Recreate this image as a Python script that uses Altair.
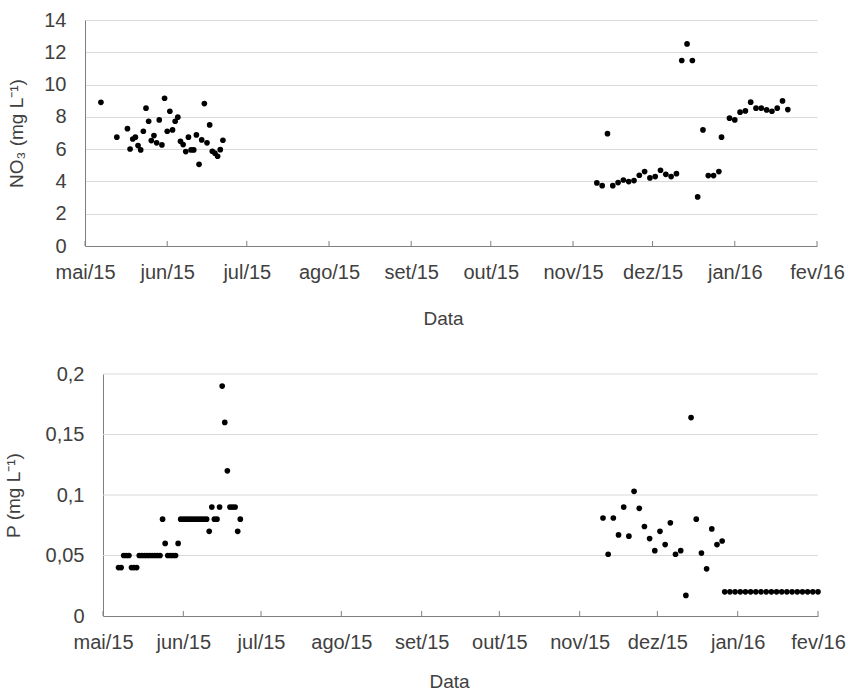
import altair as alt
import pandas as pd

# ---------------- data ----------------
no3_dates = [
    "2015-05-07", "2015-05-13",
    "2015-05-17", "2015-05-18", "2015-05-19", "2015-05-20", "2015-05-21", "2015-05-22",
    "2015-05-23", "2015-05-24", "2015-05-25", "2015-05-26", "2015-05-27", "2015-05-28",
    "2015-05-29", "2015-05-30", "2015-05-31",
    "2015-06-01", "2015-06-02", "2015-06-03", "2015-06-04", "2015-06-05", "2015-06-06",
    "2015-06-07", "2015-06-08", "2015-06-09", "2015-06-10", "2015-06-11", "2015-06-12",
    "2015-06-13", "2015-06-14", "2015-06-15", "2015-06-16", "2015-06-17", "2015-06-18",
    "2015-06-19", "2015-06-20", "2015-06-21", "2015-06-22",
    "2015-11-10", "2015-11-12", "2015-11-14", "2015-11-16", "2015-11-18", "2015-11-20",
    "2015-11-22", "2015-11-24", "2015-11-26", "2015-11-28", "2015-11-30",
    "2015-12-02", "2015-12-04", "2015-12-06", "2015-12-08", "2015-12-10", "2015-12-12",
    "2015-12-14", "2015-12-16", "2015-12-18", "2015-12-20", "2015-12-22", "2015-12-24",
    "2015-12-26", "2015-12-27", "2015-12-30",
    "2016-01-01", "2016-01-03", "2016-01-05", "2016-01-07", "2016-01-09", "2016-01-11",
    "2016-01-13", "2016-01-15", "2016-01-17", "2016-01-19", "2016-01-21",
]
no3_values = [
    8.90, 6.74,
    7.27, 6.01, 6.63, 6.74, 6.22, 5.95, 7.11, 8.54, 7.73, 6.53, 6.84, 6.39,
    7.81, 6.26, 9.15,
    7.11, 8.35, 7.19, 7.73, 7.98, 6.49, 6.28, 5.85, 6.74, 5.95, 5.95, 6.88,
    5.06, 6.57, 8.82, 6.39, 7.50, 5.87, 5.75, 5.56, 5.97, 6.55,
    3.91, 3.74, 6.96, 3.74, 3.93, 4.09, 3.99, 4.05, 4.38, 4.61, 4.22,
    4.30, 4.69, 4.44, 4.30, 4.48, 11.49, 12.52, 11.49, 3.04, 7.19, 4.36, 4.36,
    4.61, 6.74, 7.92,
    7.81, 8.29, 8.37, 8.91, 8.54, 8.54, 8.43, 8.35, 8.54, 8.99, 8.45,
]

p_dates = [
    "2015-05-07", "2015-05-08", "2015-05-09", "2015-05-10", "2015-05-11", "2015-05-12",
    "2015-05-13", "2015-05-14", "2015-05-15", "2015-05-16", "2015-05-17", "2015-05-18",
    "2015-05-19", "2015-05-20", "2015-05-21", "2015-05-22", "2015-05-23", "2015-05-24",
    "2015-05-25", "2015-05-26", "2015-05-27", "2015-05-28", "2015-05-29", "2015-05-30",
    "2015-05-31",
    "2015-06-01", "2015-06-02", "2015-06-03", "2015-06-04", "2015-06-05", "2015-06-06",
    "2015-06-07", "2015-06-08", "2015-06-09", "2015-06-10", "2015-06-11", "2015-06-12",
    "2015-06-13", "2015-06-14", "2015-06-15", "2015-06-16", "2015-06-17", "2015-06-18",
    "2015-06-19", "2015-06-20", "2015-06-21", "2015-06-22", "2015-06-23",
    "2015-11-10", "2015-11-12", "2015-11-14", "2015-11-16", "2015-11-18", "2015-11-20",
    "2015-11-22", "2015-11-24", "2015-11-26", "2015-11-28", "2015-11-30",
    "2015-12-02", "2015-12-04", "2015-12-06", "2015-12-08", "2015-12-10", "2015-12-12",
    "2015-12-14", "2015-12-16", "2015-12-18", "2015-12-20", "2015-12-22", "2015-12-24",
    "2015-12-26",
    "2015-12-27", "2015-12-29", "2015-12-31",
    "2016-01-02", "2016-01-04", "2016-01-06", "2016-01-08", "2016-01-10", "2016-01-12",
    "2016-01-14", "2016-01-16", "2016-01-18", "2016-01-20", "2016-01-22", "2016-01-24",
    "2016-01-26", "2016-01-28", "2016-01-30", "2016-02-01",
]
p_values = [
    0.04, 0.04, 0.05, 0.05, 0.05, 0.04,
    0.04, 0.04, 0.05, 0.05, 0.05, 0.05,
    0.05, 0.05, 0.05, 0.05, 0.05, 0.08,
    0.06, 0.05, 0.05, 0.05, 0.05, 0.06,
    0.08,
    0.08, 0.08, 0.08, 0.08, 0.08, 0.08,
    0.08, 0.08, 0.08, 0.08, 0.07, 0.09,
    0.08, 0.08, 0.09, 0.19, 0.16, 0.12,
    0.09, 0.09, 0.09, 0.07, 0.08,
    0.081, 0.051, 0.081, 0.067, 0.090, 0.066,
    0.103, 0.089, 0.074, 0.064, 0.054,
    0.070, 0.059, 0.077, 0.051, 0.054, 0.017,
    0.164, 0.080, 0.052, 0.039, 0.072, 0.059,
    0.062,
    0.02, 0.02, 0.02,
    0.02, 0.02, 0.02, 0.02, 0.02, 0.02,
    0.02, 0.02, 0.02, 0.02, 0.02, 0.02,
    0.02, 0.02, 0.02, 0.02,
]

month_ticks = [
    "2015-05-01", "2015-06-01", "2015-07-01", "2015-08-01", "2015-09-01",
    "2015-10-01", "2015-11-01", "2015-12-01", "2016-01-01", "2016-02-01",
]
no3_ticks = [0, 2, 4, 6, 8, 10, 12, 14]
p_ticks = [0, 0.05, 0.1, 0.15, 0.2]

# ---------------- style ----------------
FONT = "Liberation Sans"
TXT = "#404040"
AXIS_LINE = "#7f7f7f"
GRID = "#d9d9d9"
LFS = 20
TFS = 19
DOT = 32

month_expr = (
    "['jan','fev','mar','abr','mai','jun','jul','ago','set','out','nov','dez']"
    "[utcmonth(datum.value)] + '/' + utcFormat(datum.value, '%y')"
)


def tdt(s):
    y, m, d = (int(v) for v in s.split("-"))
    return alt.DateTime(year=y, month=m, date=d, utc=True)


x_domain = [tdt(month_ticks[0]), tdt(month_ticks[-1])]
x_values = [tdt(s) for s in month_ticks]

no3_df = pd.DataFrame({"date": no3_dates, "value": no3_values})
p_df = pd.DataFrame({"date": p_dates, "value": p_values})
ticks_df = pd.DataFrame({"date": month_ticks})
pgrid_df = pd.DataFrame({"value": p_ticks[1:]})

# ---------------- top panel ----------------
W1, H1 = 732, 226

x_top = alt.X(
    "date:T",
    title="Data",
    scale=alt.Scale(type="utc", domain=x_domain),
    axis=alt.Axis(
        values=x_values, labelExpr=month_expr, grid=False, ticks=False,
        labelPadding=16, titlePadding=27, labelFlush=False, labelOverlap=False,
        domainColor=AXIS_LINE, titleX=358,
    ),
)
y_top = alt.Y(
    "value:Q",
    title="NO₃ (mg L⁻¹)",
    scale=alt.Scale(domain=[0, 14], nice=False),
    axis=alt.Axis(
        values=no3_ticks, grid=True, gridColor=GRID, ticks=False,
        labelPadding=19, titlePadding=17, domainColor=AXIS_LINE,
    ),
)

top_ticks = alt.Chart(ticks_df).mark_rule(color=AXIS_LINE).encode(
    x=alt.X("date:T"), y=alt.value(H1 - 5), y2=alt.value(H1)
)
top_pts = alt.Chart(no3_df).mark_circle(size=DOT, color="black", opacity=1).encode(
    x=x_top, y=y_top
)
top = alt.layer(top_pts, top_ticks).properties(width=W1, height=H1)

# ---------------- bottom panel ----------------
W2, H2 = 733, 242
SHIFT = 18

x_bot = alt.X(
    "date:T",
    title="Data",
    scale=alt.Scale(type="utc", domain=x_domain, range=[SHIFT, W2]),
    axis=alt.Axis(
        values=x_values, labelExpr=month_expr, grid=False, ticks=False,
        labelPadding=16, titlePadding=20, labelFlush=False, labelOverlap=False,
        domainColor=AXIS_LINE, titleX=364,
    ),
)
y_bot = alt.Y(
    "value:Q",
    title="P (mg L⁻¹)",
    scale=alt.Scale(domain=[0, 0.2], nice=False),
    axis=alt.Axis(
        values=p_ticks, grid=False, ticks=False, offset=-SHIFT,
        labelExpr="replace(format(datum.value, '~g'), '.', ',')",
        labelPadding=19, titlePadding=22, domainColor=AXIS_LINE,
    ),
)

bot_grid = alt.Chart(pgrid_df).mark_rule(color=GRID).encode(
    y=y_bot, x=alt.value(SHIFT), x2=alt.value(W2)
)
bot_ticks = alt.Chart(ticks_df).mark_rule(color=AXIS_LINE).encode(
    x=alt.X("date:T"), y=alt.value(H2 - 5), y2=alt.value(H2)
)
bot_pts = alt.Chart(p_df).mark_circle(size=DOT, color="black", opacity=1).encode(
    x=x_bot, y=y_bot
)
bottom = alt.layer(bot_grid, bot_pts, bot_ticks).properties(width=W2, height=H2)

chart = (
    alt.vconcat(top, bottom, spacing=36)
    .properties(padding={"left": 4, "top": 10, "right": 0, "bottom": 0})
    .configure(font=FONT)
    .configure_view(stroke=None)
    .configure_axis(
        labelFont=FONT, titleFont=FONT, labelFontSize=LFS, titleFontSize=TFS,
        labelColor=TXT, titleColor=TXT, titleFontWeight="normal", domainWidth=1,
    )
)

chart.save("out.html", embed_options={"renderer": "svg", "actions": False})
